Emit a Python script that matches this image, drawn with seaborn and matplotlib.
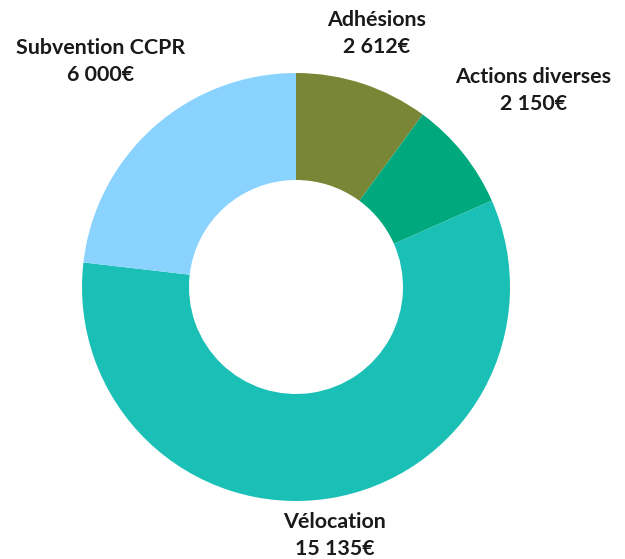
import numpy as np
import matplotlib
matplotlib.use("Agg")
import matplotlib.pyplot as plt
import seaborn as sns

labels = ["Adhésions", "Actions diverses", "Vélocation", "Subvention CCPR"]
values = [2612, 2150, 15135, 6000]
value_labels = ["2 612€", "2 150€", "15 135€", "6 000€"]
colors = ["#798636", "#00a97d", "#1abfb5", "#8bd3ff"]

sns.set_theme(style="white")
plt.rcParams["font.family"] = ["Lato", "DejaVu Sans"]

fig = plt.figure(figsize=(6.25, 5.59), dpi=100)
ax = fig.add_axes([0, 0, 1, 1])

R = 214
wedges, _ = ax.pie(
    values,
    colors=colors,
    radius=R,
    startangle=90,
    counterclock=False,
    wedgeprops=dict(width=R * 0.5, linewidth=0),
)

# label distance from centre, per slice
label_r = [260, 304, 257, 294]
gap = 13.5
for w, name, val, r in zip(wedges, labels, value_labels, label_r):
    ang = np.deg2rad((w.theta1 + w.theta2) / 2)
    x, y = r * np.cos(ang), r * np.sin(ang)
    style = dict(ha="center", va="baseline", fontsize=15.4,
                 fontweight="bold", color="#1a1a1a")
    ax.text(x, y + gap, name, **style)
    ax.text(x, y - gap, val, **style)

ax.set_xlim(-296, 329)
ax.set_ylim(-272, 287)
ax.set_aspect("equal")
ax.axis("off")

plt.savefig("out.png", dpi=100)
